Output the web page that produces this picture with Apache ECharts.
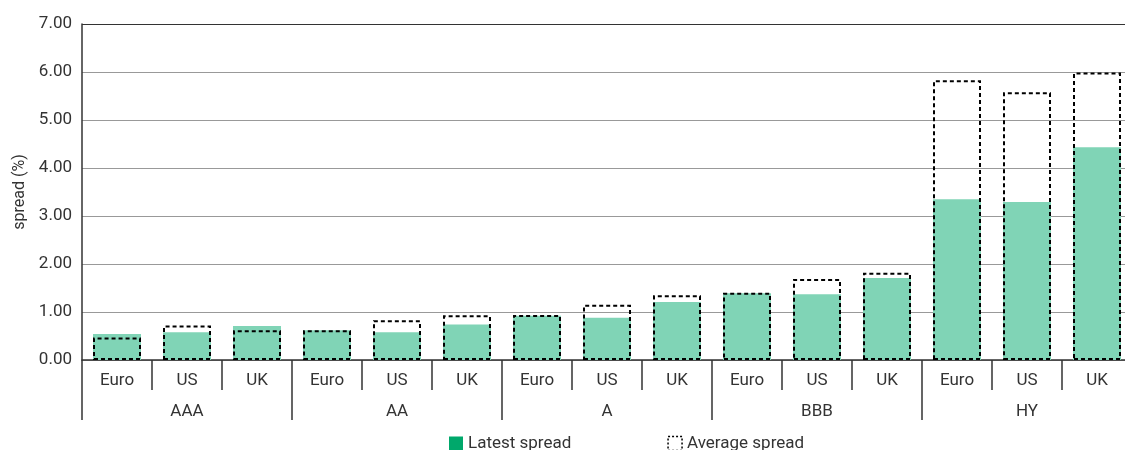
<!DOCTYPE html>
<html>
<head>
<meta charset="utf-8">
<script src="https://cdn.jsdelivr.net/npm/echarts@6/dist/echarts.min.js"></script>
<style>html,body{margin:0;padding:0;background:#fff}#c{width:1125px;height:450px}</style>
</head>
<body>
<div id="c"></div>
<script>
const ratings = ['AAA', 'AA', 'A', 'BBB', 'HY'];
const regions = ['Euro', 'US', 'UK', 'Euro', 'US', 'UK', 'Euro', 'US', 'UK', 'Euro', 'US', 'UK', 'Euro', 'US', 'UK'];
const latestSpread = [0.54, 0.58, 0.71, 0.62, 0.58, 0.74, 0.92, 0.88, 1.21, 1.39, 1.37, 1.71, 3.35, 3.29, 4.43];
const averageSpread = [0.47, 0.72, 0.62, 0.62, 0.83, 0.93, 0.94, 1.15, 1.35, 1.40, 1.69, 1.82, 5.83, 5.58, 5.99];
const yTicks = ['0.00', '1.00', '2.00', '3.00', '4.00', '5.00', '6.00', '7.00'];

const font = 'Roboto, "Noto Sans", sans-serif';
const chart = echarts.init(document.getElementById('c'), null, { renderer: 'canvas' });
chart.setOption({
  animation: false,
  grid: { left: 82, top: 24, bottom: 90, width: 1050, containLabel: false, outerBoundsMode: 'none' },
  legend: {
    left: 449, top: 435, padding: 0,
    itemWidth: 14, itemHeight: 14, itemGap: 96,
    textStyle: { fontFamily: font, fontSize: 17, color: '#333' },
    data: [
      { name: 'Latest spread', icon: 'rect', itemStyle: { color: '#00A86B', borderWidth: 0 } },
      { name: 'Average spread', icon: 'rect', itemStyle: { color: 'rgba(0,0,0,0)', borderColor: '#000', borderWidth: 1.5, borderType: [2, 2] } }
    ]
  },
  xAxis: [
    {
      type: 'category', data: regions, position: 'bottom',
      axisLine: { show: true, lineStyle: { color: '#333', width: 1.5 } },
      axisTick: { show: true, length: 30, lineStyle: { color: '#333', width: 1.5 } },
      axisLabel: { fontFamily: font, fontSize: 17, color: '#333', margin: 12, interval: 0 },
      splitLine: { show: false }
    },
    {
      type: 'category', data: ratings, position: 'bottom', offset: 30,
      axisLine: { show: false },
      axisTick: { show: true, length: 30, lineStyle: { color: '#333', width: 1.5 } },
      axisLabel: { fontFamily: font, fontSize: 17, color: '#333', margin: 13, interval: 0 },
      splitLine: { show: false }
    }
  ],
  yAxis: {
    type: 'value', min: 0, max: 7, interval: 1,
    name: 'spread (%)', nameLocation: 'middle', nameGap: 52, nameRotate: 90,
    nameTextStyle: { fontFamily: font, fontSize: 16, color: '#333' },
    axisLine: { show: true, lineStyle: { color: '#333', width: 1.5 } },
    axisTick: { show: false },
    axisLabel: { fontFamily: font, fontSize: 17, color: '#333', margin: 10,
      formatter: (v) => yTicks[Math.round(v)] },
    splitLine: { show: true, lineStyle: { color: ['#999', '#999', '#999', '#999', '#999', '#999', '#999', '#333'], width: 1 } }
  },
  series: [
    {
      name: 'Latest spread', type: 'bar', xAxisIndex: 0, data: latestSpread,
      barWidth: 48, barGap: '-100%',
      itemStyle: { color: '#80D4B6' }
    },
    {
      name: 'Average spread', type: 'bar', xAxisIndex: 0, data: averageSpread,
      barWidth: 48, barGap: '-100%',
      itemStyle: { color: 'rgba(0,0,0,0)', borderColor: '#000', borderWidth: 2, borderType: [4, 3] }
    }
  ]
});
</script>
</body>
</html>
